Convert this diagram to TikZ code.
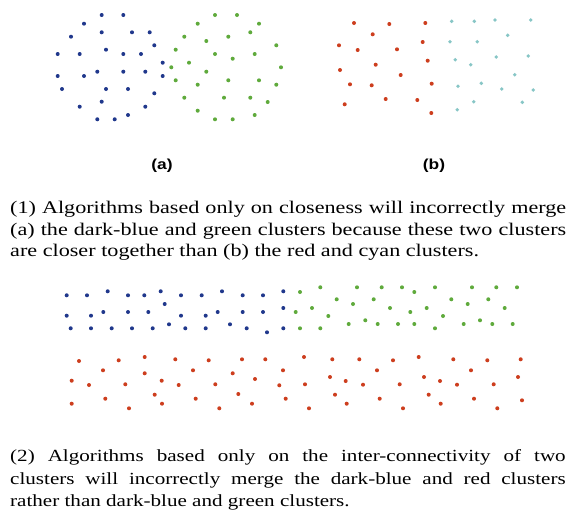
\documentclass[tikz,border=0pt]{standalone}
\usepackage{fontspec}
\setmainfont{Liberation Serif}
\newfontfamily\labelfont{Liberation Sans}
\definecolor{cblue}{RGB}{32,56,140}
\definecolor{cgreen}{RGB}{95,170,60}
\definecolor{cred}{RGB}{205,62,30}
\definecolor{ccyan}{RGB}{135,198,198}
\newcommand{\jlineA}[1]{\scalebox{1.245}[1]{\makebox[446.6pt][s]{#1}}}
\newcommand{\jlineB}[1]{\scalebox{1.24}[1]{\makebox[448pt][s]{#1}}}
\begin{document}
\begin{tikzpicture}[x=1pt,y=-1pt,
  dotb/.style={fill=cblue},
  dotg/.style={fill=cgreen},
  dotr/.style={fill=cred},
  dotc/.style={fill=ccyan},
  captionA/.style={anchor=base west,inner sep=0pt,font=\fontsize{17.8}{22}\selectfont},
  captionB/.style={anchor=base west,inner sep=0pt,font=\fontsize{17}{22}\selectfont},
  sublabel/.style={inner sep=0pt,font=\labelfont\bfseries\fontsize{14.5}{16}\selectfont}]
\useasboundingbox[fill=white] (0,0) rectangle (571,515);
% ---- top left: dark-blue cluster
\foreach \x/\y in {101.7/15,123.3/15,84/23.7,71/36.7,101.7/32.3,132/32.3,149.7/32.3,154.3/45.3,
  57.7/54,79.7/54,106/49.7,123.3/54,141/54,162.7/62.7,57.7/76,84/76,97.3/71.7,123.3/71.7,
  145.3/71.7,162.7/76,62/89,106/89,128/89,154.3/93.3,101.7/101.7,79.7/106.7,145.3/106.7,
  128/115,97.3/119.3,114.7/119.3}
  \fill[dotb] (\x,\y) circle (2);
% ---- top left: green cluster
\foreach \x/\y in {215/15,237/15,197.7/23.7,259/23.7,184.3/36.7,206.3/41,228.3/36.7,250.3/32.3,
  276.3/45.3,175.7/49.7,215/54,232.7/58.7,254.7/54,189/62.7,171.3/67.3,206.3/71.7,281/67.3,
  175.7/80.3,197.7/84.7,228.3/80.3,259/80.3,276.3/84.7,184.3/97.7,224/97.7,250.3/97.7,
  267.7/102,197.7/110.7,215/119.3,232.7/119.3,254.7/115}
  \fill[dotg] (\x,\y) circle (2);
% ---- top right: red cluster
\foreach \x/\y in {354/23,389.3/24,425.3/23,372.7/34.3,339/45.3,357.7/50,397/49.3,422.7/42,
  375.7/64.7,340/70,427.7/60.7,350/84.3,371.7/85.3,400.7/75,431.7/83.7,385.7/99,417.3/100,
  344.7/104.3,431.3/113}
  \fill[dotr] (\x,\y) circle (2);
% ---- top right: cyan cluster
\foreach \x/\y in {451.7/21.3,474.3/21.3,495/20,530.7/20,507.7/35.3,450/41.7,477.3/41.7,
  455.3/59.7,470.7/64.7,496.3/57,528.3/56,514.7/74.7,458/86.3,481.3/83.3,501.7/89,533.3/90,
  473.7/101.7,457.3/109.7,522.3/102.3}
  \fill[dotc] (\x,\y) circle (1.9);
\node[sublabel] (la) at (162,165.5) {\scalebox{1.2}[1]{(a)}};
\node[sublabel] (lb) at (434,165.5) {\scalebox{1.2}[1]{(b)}};
% ---- caption 1
\node[captionA] (c1a) at (10,213.3) {\jlineA{(1) Algorithms based only on closeness will incorrectly merge}};
\node[captionA] (c1b) at (10,235) {\jlineA{(a) the dark-blue and green clusters because these two clusters}};
\node[captionA] (c1c) at (10,256.8) {\scalebox{1.245}[1]{are closer together than (b) the red and cyan clusters.}};
% ---- middle: dark-blue band
\foreach \x/\y in {66.7/295.3,87/295.3,107.7/291.3,128/295.3,144.3/295.3,160.7/291.3,181/295.3,
  201.7/295.3,222/291.3,242.7/295.3,263/295.3,283.3/291.3,164.7/304,
  66.7/315.7,91/315.7,103.3/312,128/312,148.3/312,181/315.7,205.7/315.7,217.7/312,242.7/312,
  263/312,283.3/308,
  70.7/328.3,91/328.3,111.7/328.3,132/328.3,152.7/328.3,169/324.3,185.3/328.3,205.7/328.3,
  230/324.3,246.7/328.3,267/332.3,283.3/328.3}
  \fill[dotb] (\x,\y) circle (2);
% ---- middle: green band
\foreach \x/\y in {300/292,320.3/287.3,357/287.3,381.7/287.3,402/287.3,414.3/292,435/287.3,
  472/287.3,496.3/287.3,517/287.3,
  336.7/299.3,353/304,373.7/299.3,451.3/299.3,467.7/304,488.3/299.3,
  295.7/312,312/308,390/308,410.3/312,426.7/308,504.7/308,
  328.3/316,443/316,
  348.7/324,365.3/320.3,377.7/324,398/324,414.3/324,463.7/324,480/320.3,492.3/324,512.7/324,
  300/328.3,320.3/328.3,435/328.3}
  \fill[dotg] (\x,\y) circle (2);
% ---- bottom: red band
\foreach \x/\y in {79/361,118.7/360.3,144.7/357,175.3/359.3,208.7/360.3,242/359.3,265.3/359.3,
  103/370.3,144.7/373.3,193/370.3,232.7/373.3,283/370.3,
  71.7/380.7,89/385,125.3/384.3,161.7/380.7,178.7/385,215.3/384.3,255/379,279.3/385.3,
  154.7/394.7,238.3/394,
  71.7/403.7,105.3/398.7,129/408.3,162/403.7,195.7/398.7,219.3/408.3,252/403.7,285.7/398.7,
  304/357,332.3/359.3,359.3/359.3,393/360.3,418.7/357,453.3/359.3,487.3/360.3,520.7/359.3,
  377/370.3,471/370.3,
  330/377,345.7/381,424/377,440/381,518/377,
  305/384.3,363/384.7,399.7/384.3,457/384.7,493.7/384.3,
  335/394.7,379.7/398.7,428.7/394.7,474/398.7,522/400.3,
  309/408.3,346.7/403.7,403/408.3,440.7/403.7,497.3/408.3}
  \fill[dotr] (\x,\y) circle (2);
% ---- caption 2
\node[captionB] (c2a) at (10,461.7) {\jlineB{(2) Algorithms based only on the inter-connectivity of two}};
\node[captionB] (c2b) at (10,484.2) {\jlineB{clusters will incorrectly merge the dark-blue and red clusters}};
\node[captionB] (c2c) at (10,506.7) {\scalebox{1.24}[1]{rather than dark-blue and green clusters.}};
\end{tikzpicture}
\end{document}
